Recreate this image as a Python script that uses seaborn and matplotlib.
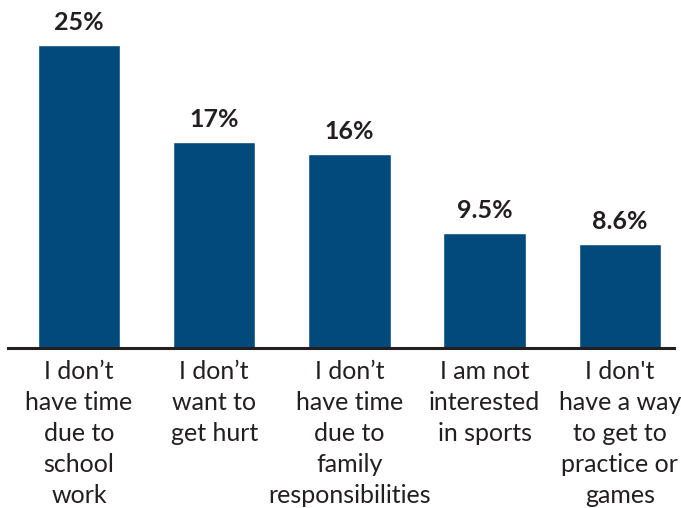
import matplotlib
matplotlib.use("Agg")
import matplotlib.pyplot as plt
import seaborn as sns
import pandas as pd

# Reasons for not playing sports, share of respondents (%)
reasons = [
    "I don\u2019t\nhave time\ndue to\nschool\nwork",
    "I don\u2019t\nwant to\nget hurt",
    "I don\u2019t\nhave time\ndue to\nfamily\nresponsibilities",
    "I am not\ninterested\nin sports",
    "I don't\nhave a way\nto get to\npractice or\ngames",
]
shares = [25, 17, 16, 9.5, 8.6]

BAR_COLOR = "#024a7b"

sns.set_theme(style="white")
plt.rcParams["font.family"] = ["Lato", "DejaVu Sans"]

df = pd.DataFrame({"reason": reasons, "share": shares})

fig = plt.figure(figsize=(6.81, 5.08), dpi=100)
ax = fig.add_axes([0.0117, 0.315, 0.978, 0.685])

sns.barplot(data=df, x="reason", y="share", color=BAR_COLOR,
            saturation=1, width=0.61, ax=ax)

ax.set_xlim(-0.525, 4.40)
ax.set_ylim(0, 28.71)

ax.bar_label(ax.containers[0], labels=[f"{v:g}%" for v in shares],
             padding=8, fontsize=18, fontweight="bold", color="#231f20")

for side in ("top", "right", "left"):
    ax.spines[side].set_visible(False)
ax.spines["bottom"].set_color("#231f20")
ax.spines["bottom"].set_linewidth(2.2)

ax.set_yticks([])
ax.set_xlabel("")
ax.set_ylabel("")
ax.tick_params(axis="x", length=0, pad=9)
for lbl in ax.get_xticklabels():
    lbl.set_fontsize(18)
    lbl.set_color("#231f20")
    lbl.set_linespacing(1.41)
    lbl.set_verticalalignment("top")

fig.savefig("out.png", dpi=100)
